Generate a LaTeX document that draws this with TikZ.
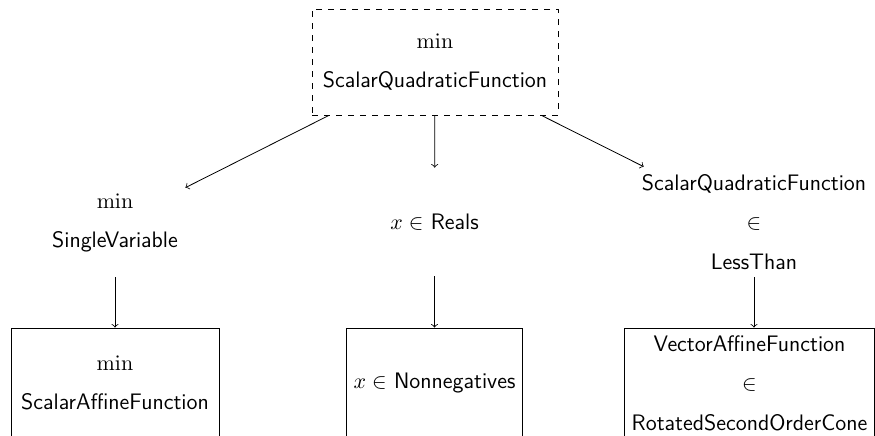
\documentclass[tikz,border=0pt]{standalone}
\begin{document}
\begin{tikzpicture}[x=0.5pt,y=-0.5pt,
  lvl/.style={font=\fontsize{11.2}{13.5}\selectfont\sffamily, align=center, minimum height=54pt, inner sep=3.6pt},
  topbox/.style={lvl, draw, dashed, minimum height=53pt, minimum width=123pt},
  botbox/.style={lvl, draw, minimum height=55pt},
  arr/.style={->}]
\useasboundingbox (0,0) rectangle (875,435);
\node[topbox] (top) at (435,62) {$\min$\\[6.3pt]ScalarQuadraticFunction};
\node[lvl] (ml) at (115,223) {$\min$\\[6.3pt]SingleVariable};
\node[lvl] (mm) at (434.5,222) {$x \in$ Reals};
\node[lvl] (mr) at (754,222) {ScalarQuadraticFunction\\[6.3pt]$\in$\\[6.3pt]LessThan};
\node[botbox, minimum width=104pt] (bl) at (115,383) {$\min$\\[6.3pt]ScalarAffineFunction};
\node[botbox] (bm) at (434.5,383) {$x \in$ Nonnegatives};
\node[botbox, minimum width=123.5pt] (br) at (749.5,383) {VectorAffineFunction\\[6.3pt]$\in$\\[6.3pt]RotatedSecondOrderCone};
\draw[arr] (top) -- (ml);
\draw[arr] (top) -- (mm);
\draw[arr] (top) -- (mr);
\draw[arr] (ml.south) -- (ml.south |- bl.north);
\draw[arr] (mm.south) -- (mm.south |- bm.north);
\draw[arr] (mr.south) -- (mr.south |- br.north);
\end{tikzpicture}
\end{document}
